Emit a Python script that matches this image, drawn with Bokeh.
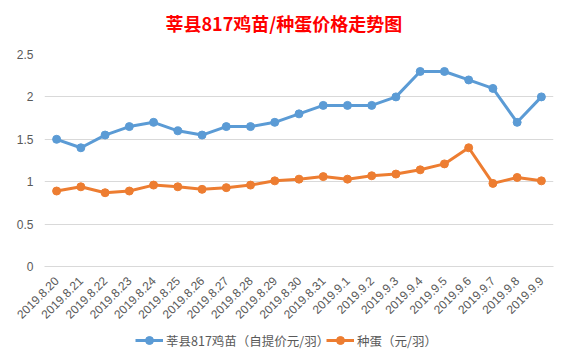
import math
from bokeh.plotting import figure
from bokeh.layouts import column
from bokeh.models import (ColumnDataSource, Legend, LegendItem, Label,
                          SingleIntervalTicker)
from bokeh.embed import file_html
from bokeh.resources import INLINE

dates = ["2019.8.20", "2019.8.21", "2019.8.22", "2019.8.23", "2019.8.24", "2019.8.25",
         "2019.8.26", "2019.8.27", "2019.8.28", "2019.8.29", "2019.8.30", "2019.8.31",
         "2019.9.1", "2019.9.2", "2019.9.3", "2019.9.4", "2019.9.5", "2019.9.6",
         "2019.9.7", "2019.9.8", "2019.9.9"]
chick = [1.5, 1.4, 1.55, 1.65, 1.7, 1.6, 1.55, 1.65, 1.65, 1.7, 1.8, 1.9,
         1.9, 1.9, 2.0, 2.3, 2.3, 2.2, 2.1, 1.7, 2.0]
egg = [0.89, 0.94, 0.87, 0.89, 0.96, 0.94, 0.91, 0.93, 0.96, 1.01, 1.03, 1.06,
       1.03, 1.07, 1.09, 1.14, 1.21, 1.40, 0.98, 1.05, 1.01]
name_chick = "莘县817鸡苗（自提价元/羽）"
name_egg = "种蛋（元/羽）"
title_text = "莘县817鸡苗/种蛋价格走势图"

BLUE = "#5B9BD5"
ORANGE = "#ED7D31"
GRAY = "#595959"
CJK = "Noto Sans CJK SC"
W = 565
LEFT = 44  # frames of the stacked figures are aligned on this edge

def blank(h):
    f = figure(width=W, height=h, x_range=(0, 1), y_range=(100, 101),
               output_backend="svg", toolbar_location=None,
               min_border_left=LEFT, min_border_right=12, min_border_top=0, min_border_bottom=0)
    f.axis.visible = False
    f.grid.visible = False
    f.outline_line_color = None
    return f

src = ColumnDataSource(dict(x=dates, chick=chick, egg=egg))

# header with title
hd = blank(40)
hd.add_layout(Label(x=165 - LEFT, y=18, x_units="screen", y_units="screen", text=title_text,
                    text_color="#FF0000", text_font=CJK, text_font_size="18px",
                    text_font_style="bold", text_baseline="middle", text_align="left"))

p = figure(x_range=dates, y_range=(0, 2.5), width=W, height=285,
           output_backend="svg", toolbar_location=None,
           min_border_left=LEFT, min_border_right=12, min_border_top=14, min_border_bottom=59)
p.outline_line_color = None

l1 = p.line("x", "chick", source=src, color=BLUE, line_width=3)
c1 = p.scatter("x", "chick", source=src, color=BLUE, size=8)
l2 = p.line("x", "egg", source=src, color=ORANGE, line_width=3)
c2 = p.scatter("x", "egg", source=src, color=ORANGE, size=8)

p.xgrid.grid_line_color = None
p.ygrid.grid_line_color = "#D9D9D9"
p.ygrid.grid_line_width = 1
p.yaxis.ticker = SingleIntervalTicker(interval=0.5)
p.yaxis.axis_line_color = None
p.yaxis.major_tick_line_color = None
p.yaxis.minor_tick_line_color = None
p.yaxis.major_label_text_color = GRAY
p.yaxis.major_label_text_font = "Liberation Sans"
p.yaxis.major_label_text_font_size = "12px"
p.yaxis.major_label_standoff = 5

p.xaxis.axis_line_color = "#D9D9D9"
p.xaxis.major_tick_line_color = None
p.xaxis.minor_tick_line_color = None
p.xaxis.major_label_orientation = math.pi / 4
p.xaxis.major_label_text_color = GRAY
p.xaxis.major_label_text_font = "Liberation Sans"
p.xaxis.major_label_text_font_size = "12px"
p.xaxis.major_label_standoff = 6

# legend strip: same series in a figure whose y-range lies outside the data
lg = figure(x_range=dates, y_range=(100, 101), width=W, height=31,
            output_backend="svg", toolbar_location=None,
            min_border_left=LEFT, min_border_right=12, min_border_top=0, min_border_bottom=0)
lg.axis.visible = False
lg.grid.visible = False
lg.outline_line_color = None
k1 = lg.line("x", "chick", source=src, color=BLUE, line_width=3)
m1 = lg.scatter("x", "chick", source=src, color=BLUE, size=8)
k2 = lg.line("x", "egg", source=src, color=ORANGE, line_width=3)
m2 = lg.scatter("x", "egg", source=src, color=ORANGE, size=8)

common = dict(orientation="horizontal", label_text_font=CJK, label_text_font_size="12.5px",
              label_text_color=GRAY, glyph_width=28, label_standoff=3,
              border_line_color=None, background_fill_alpha=0, padding=0, margin=0)
lg.add_layout(Legend(items=[LegendItem(label=name_chick, renderers=[k1, m1])],
                     location=(135 - LEFT, 6), **common), "center")
lg.add_layout(Legend(items=[LegendItem(label=name_egg, renderers=[k2, m2])],
                     location=(326 - LEFT, 6), **common), "center")

layout = column(hd, p, lg, spacing=0)
open("out.html", "w").write(file_html(layout, INLINE))
